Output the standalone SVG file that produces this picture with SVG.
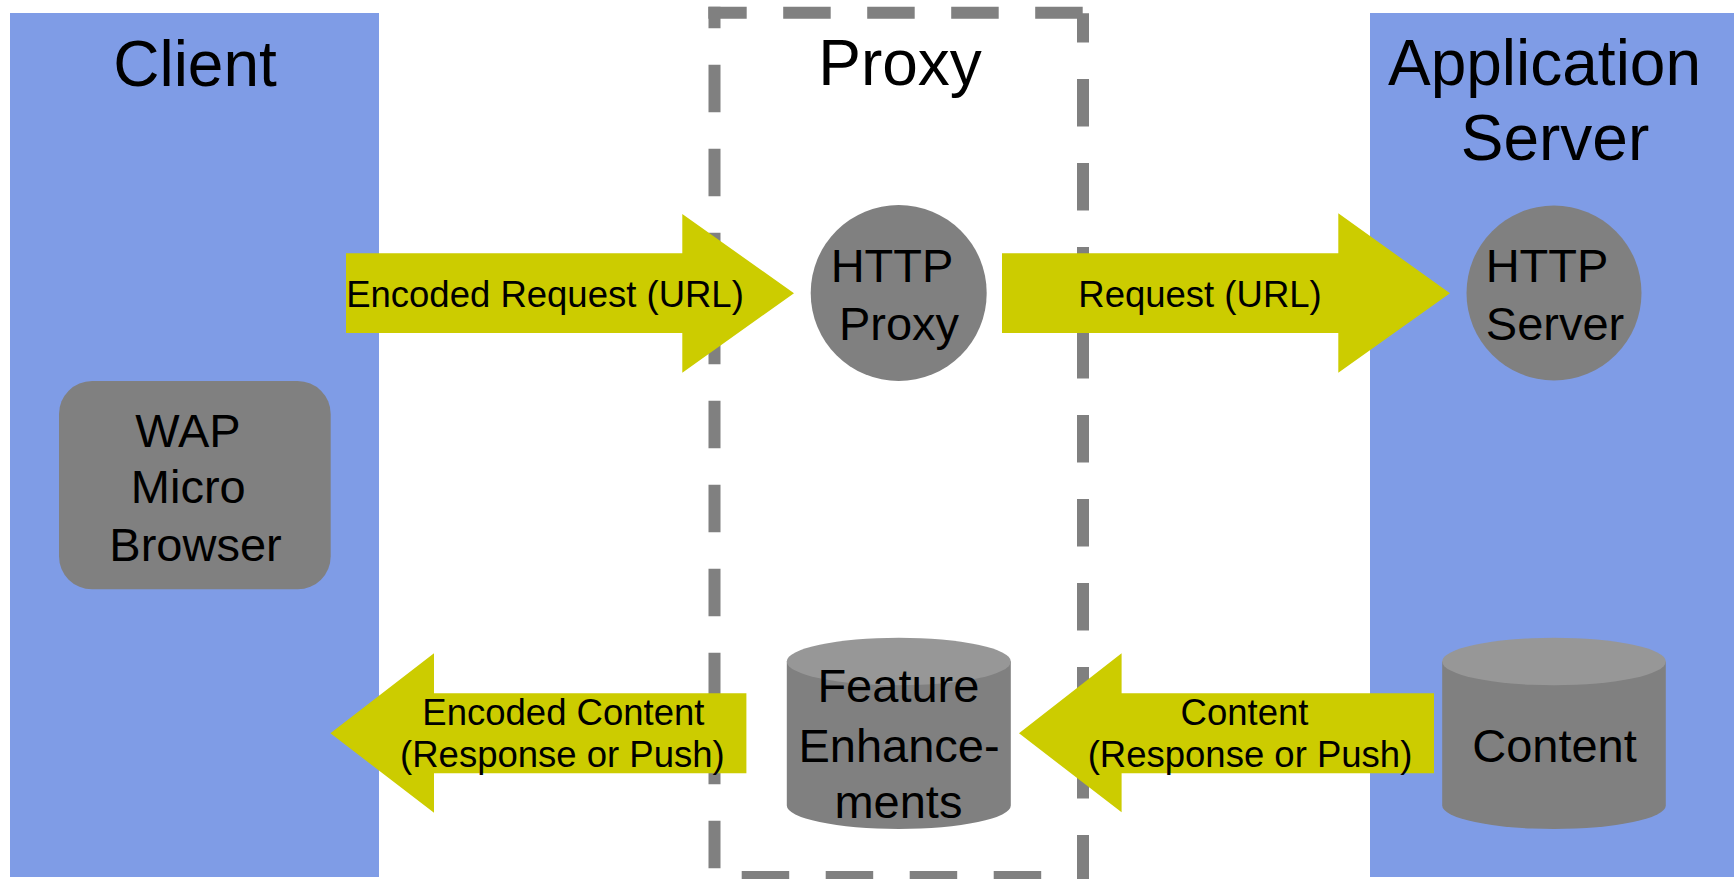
<svg xmlns="http://www.w3.org/2000/svg" width="1734" height="879" viewBox="0 0 1734 879">
  <style>
    .panel { fill: #7f9ce6; }
    .dash { stroke: #808080; stroke-width: 12; stroke-dasharray: 47.5 36.5; fill: none; }
    .flow { fill: #cccc00; }
    .shape { fill: #808080; }
    .lid { fill: #979797; }
    text { font-family: "Liberation Sans", Arial, sans-serif; fill: #000; text-anchor: middle; }
    .title { font-size: 64px; }
    .node { font-size: 47px; }
    .label { font-size: 36.5px; }
  </style>

  <rect width="1734" height="879" fill="#ffffff"/>

  <!-- swim lanes -->
  <g id="client">
    <rect class="panel" x="10" y="13" width="369" height="864"/>
    <text class="title" x="195" y="85.7">Client</text>
  </g>
  <g id="app-server">
    <rect class="panel" x="1370" y="13" width="364" height="864"/>
    <text class="title" x="1544.5" y="85">Application</text>
    <text class="title" x="1555" y="160">Server</text>
  </g>
  <g id="proxy">
    <line class="dash" x1="708.3" y1="12.85" x2="1082.7" y2="12.85" stroke-dashoffset="9.1"/>
    <line class="dash" x1="714.5" y1="6.7" x2="714.5" y2="879" stroke-dashoffset="25.9"/>
    <line class="dash" x1="1083" y1="13.3" x2="1083" y2="883" stroke-dashoffset="18.3"/>
    <line class="dash" x1="709.3" y1="877" x2="1088.7" y2="877" stroke-dashoffset="51.6"/>
    <text class="title" x="900" y="85">Proxy</text>
  </g>

  <!-- block arrows -->
  <g id="connectors">
    <g id="encoded-request">
      <polygon class="flow" points="346,253.3 682.3,253.3 682.3,214 794,293.3 682.3,372.7 682.3,333 346,333"/>
      <text class="label" x="545" y="306.7">Encoded Request (URL)</text>
    </g>
    <g id="request">
      <polygon class="flow" points="1002,253.3 1338.3,253.3 1338.3,213.3 1450,293.3 1338.3,372.7 1338.3,333 1002,333"/>
      <text class="label" x="1200" y="306.7">Request (URL)</text>
    </g>
    <g id="encoded-content">
      <polygon class="flow" points="746.4,693.3 434,693.3 434,653.3 330.4,733.3 434,812.7 434,773.3 746.4,773.3"/>
      <text class="label" x="563.4" y="725">Encoded Content</text>
      <text class="label" x="562.4" y="766.7">(Response or Push)</text>
    </g>
    <g id="content-flow">
      <polygon class="flow" points="1434,693.3 1121.6,693.3 1121.6,653.3 1019,733.3 1121.6,812.3 1121.6,773.3 1434,773.3"/>
      <text class="label" x="1244.5" y="725">Content</text>
      <text class="label" x="1250" y="767">(Response or Push)</text>
    </g>
  </g>

  <!-- nodes -->
  <g id="wap-browser">
    <rect class="shape" x="59" y="381" width="271.7" height="208.3" rx="33" ry="33"/>
    <text class="node" x="188" y="446.7">WAP</text>
    <text class="node" x="188.3" y="502.7">Micro</text>
    <text class="node" x="195.5" y="560.7">Browser</text>
  </g>
  <g id="http-proxy">
    <circle class="shape" cx="898.7" cy="293" r="88"/>
    <text class="node" x="892" y="281.7">HTTP</text>
    <text class="node" x="899" y="340">Proxy</text>
  </g>
  <g id="http-server">
    <circle class="shape" cx="1554" cy="293" r="87.5"/>
    <text class="node" x="1547" y="281.7">HTTP</text>
    <text class="node" x="1555" y="340">Server</text>
  </g>
  <g id="feature-enhancements">
    <path class="shape" d="M786.8,661.5 V805.5 A112,23.5 0 0 0 1010.8,805.5 V661.5 Z"/>
    <ellipse class="lid" cx="898.8" cy="661.5" rx="112" ry="23.8"/>
    <text class="node" x="898.4" y="701.7">Feature</text>
    <text class="node" x="899" y="761.7">Enhance-</text>
    <text class="node" x="898.4" y="817.5">ments</text>
  </g>
  <g id="content">
    <path class="shape" d="M1442.2,661.5 V805.5 A111.8,23.5 0 0 0 1665.8,805.5 V661.5 Z"/>
    <ellipse class="lid" cx="1554" cy="661.5" rx="111.8" ry="23.8"/>
    <text class="node" x="1554.5" y="762.3">Content</text>
  </g>
</svg>
